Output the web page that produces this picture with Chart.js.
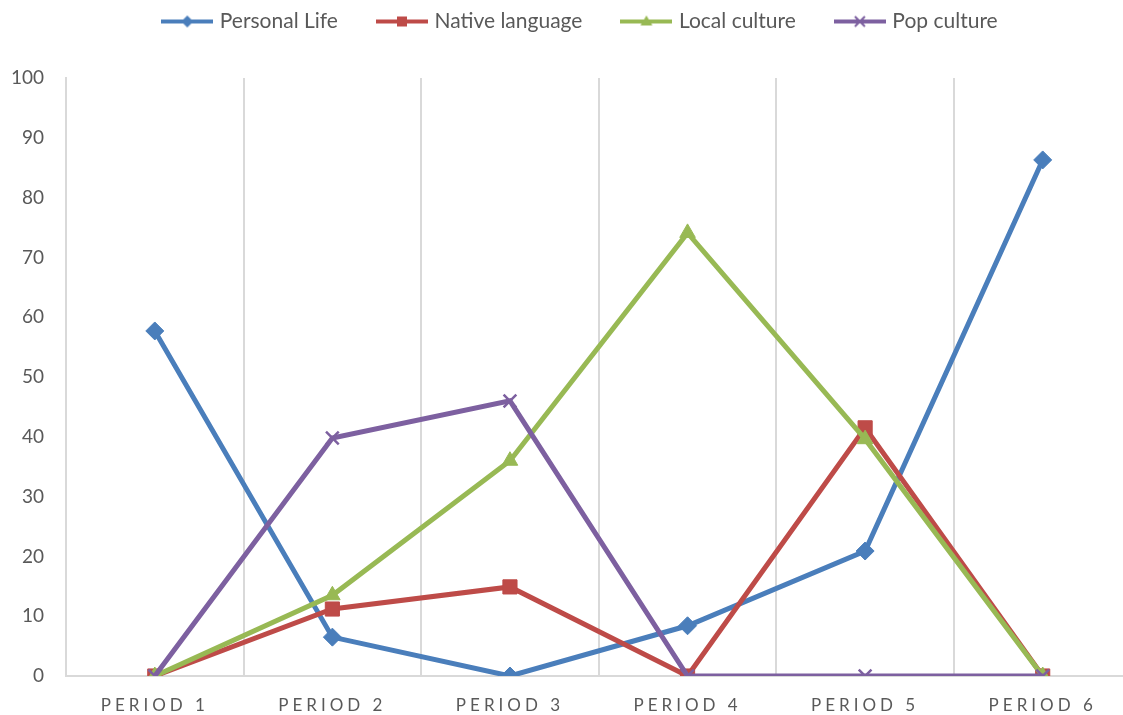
<!DOCTYPE html>
<html>
<head>
<meta charset="utf-8">
<script src="https://cdn.jsdelivr.net/npm/chart.js@4"></script>
<style>
    html, body { margin: 0; padding: 0; background: #fff; overflow: hidden; }
    #wrap { width: 1123px; height: 715px; overflow: hidden; }
</style>
</head>
<body>
<div id="wrap"><canvas id="chart" width="1143" height="715"></canvas></div>
<script>
const categories = ['PERIOD 1', 'PERIOD 2', 'PERIOD 3', 'PERIOD 4', 'PERIOD 5', 'PERIOD 6'];
const personalLife = [57.7, 6.5, 0, 8.4, 20.9, 86.3];
const nativeLanguage = [0, 11.2, 14.9, 0, 41.5, 0];
const localCulture = [0, 13.5, 36, 74.1, 39.6, 0];
const popCulture = [0, 39.8, 46, 0, 0, 0];
const yMin = 0;
const yMax = 100;
const yStep = 10;

const TEXT = '#595959';
const GRID = '#d9d9d9';

// legend sample: a short line with the marker in the middle
function legendIcon(color, style) {
    const c = document.createElement('canvas');
    c.width = 52;
    c.height = 14;
    const g = c.getContext('2d');
    g.strokeStyle = color;
    g.fillStyle = color;
    g.lineWidth = 4;
    g.beginPath();
    g.moveTo(0, 7);
    g.lineTo(52, 7);
    g.stroke();
    g.beginPath();
    if (style === 'rectRot') {
        g.moveTo(26, 1); g.lineTo(32, 7); g.lineTo(26, 13); g.lineTo(20, 7); g.closePath(); g.fill();
    } else if (style === 'rect') {
        g.fillRect(21, 2, 10, 10);
    } else if (style === 'triangle') {
        g.moveTo(26, 1); g.lineTo(32, 11); g.lineTo(20, 11); g.closePath(); g.fill();
    } else {
        g.lineWidth = 2;
        g.moveTo(21, 2); g.lineTo(31, 12); g.moveTo(31, 2); g.lineTo(21, 12); g.stroke();
    }
    return c;
}

function series(label, data, color, style, order, radius) {
    return {
        label,
        data,
        borderColor: color,
        backgroundColor: color,
        borderWidth: 5,
        pointStyle: style,
        pointRadius: radius,
        pointHoverRadius: radius,
        pointBorderColor: color,
        pointBackgroundColor: color,
        pointBorderWidth: style === 'crossRot' ? 2.5 : 1,
        tension: 0,
        order,
        legendIcon: legendIcon(color, style),
    };
}

const LEGEND_PAD = 42;

const layoutTweaks = {
    id: 'layoutTweaks',
    beforeUpdate(chart) {
        const lg = chart.legend;
        if (lg && !lg._fixed) {
            const fit = lg.fit;
            lg.fit = function () {
                fit.call(this);
                this.height = 75;
            };
            lg._fixed = true;
        }
    },
    afterUpdate(chart) {
        const s = chart.scales.x;
        if (s && !s._spaced) {
            const orig = s.drawLabels;
            s.drawLabels = function (area) {
                this.ctx.save();
                this.ctx.letterSpacing = '4px';
                orig.call(this, area);
                this.ctx.restore();
            };
            s._spaced = true;
        }
    },
    afterLayout(chart) {
        if (chart.legend) {
            chart.legend.top = 22 - 11 - LEGEND_PAD;
            chart.legend.left = 20;
        }
    },
};

new Chart(document.getElementById('chart'), {
    type: 'line',
    data: {
        labels: categories,
        datasets: [
            series('Personal Life', personalLife, '#4a7ebb', 'rectRot', 4, 9),
            series('Native language', nativeLanguage, '#be4b48', 'rect', 3, 10),
            series('Local culture', localCulture, '#98b954', 'triangle', 2, 9),
            series('Pop culture', popCulture, '#7d60a0', 'crossRot', 1, 9),
        ],
    },
    plugins: [layoutTweaks],
    options: {
        responsive: false,
        animation: false,
        layout: { padding: { top: 3, right: 0, left: 0, bottom: 0 } },
        plugins: {
            tooltip: { enabled: false },
            legend: {
                position: 'top',
                labels: {
                    usePointStyle: true,
                    pointStyleWidth: 44,
                    padding: LEGEND_PAD,
                    color: TEXT,
                    font: { family: 'Lato', size: 21 },
                    generateLabels(chart) {
                        return chart.data.datasets.map((ds, i) => ({
                            text: ds.label,
                            fillStyle: ds.borderColor,
                            strokeStyle: ds.borderColor,
                            fontColor: TEXT,
                            lineWidth: 0,
                            pointStyle: ds.legendIcon,
                            hidden: false,
                            datasetIndex: i,
                        }));
                    },
                },
            },
        },
        scales: {
            x: {
                offset: true,
                grid: { display: true, color: GRID, lineWidth: 2, offset: true, drawTicks: false },
                border: { display: true, color: GRID, width: 2 },
                ticks: { color: TEXT, padding: 19, font: { family: 'Lato', size: 17 } },
                afterFit(scale) { scale.height = 39; },
            },
            y: {
                min: yMin,
                max: yMax,
                grid: { display: false, drawTicks: false },
                border: { display: true, color: GRID, width: 2 },
                ticks: { stepSize: yStep, color: TEXT, padding: 22, font: { family: 'Lato', size: 19 } },
                afterFit(scale) { scale.width = 66; },
            },
        },
    },
});
</script>
</body>
</html>
